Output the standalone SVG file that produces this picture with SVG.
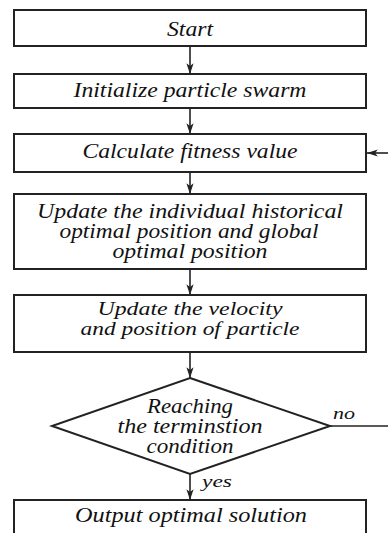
<svg xmlns="http://www.w3.org/2000/svg" width="388" height="533" viewBox="0 0 388 533">
<defs>
<marker id="ah" viewBox="0 0 12 10" refX="12" refY="5" markerWidth="12" markerHeight="9" markerUnits="userSpaceOnUse" orient="auto">
<path d="M0,1 L12,5 L0,9 L3,5 Z" fill="#222"/>
</marker>
<style>
.b{fill:#fff;stroke:#222;stroke-width:2}
.t{font-family:"Liberation Serif","Times New Roman","DejaVu Serif",serif;font-style:italic;font-size:20px;fill:#111;text-anchor:middle}
.v{font-size:18.5px}
.s{font-family:"Liberation Serif","Times New Roman","DejaVu Serif",serif;font-style:italic;font-size:17px;fill:#111}
.c{fill:none;stroke:#222;stroke-width:1.6}
</style>
</defs>
<rect width="388" height="533" fill="#fff"/>
<g id="connectors">
<line class="c" x1="190" y1="47" x2="190" y2="74" marker-end="url(#ah)"/>
<line class="c" x1="190" y1="108" x2="190" y2="134" marker-end="url(#ah)"/>
<line class="c" x1="190" y1="172" x2="190" y2="194" marker-end="url(#ah)"/>
<line class="c" x1="190" y1="269" x2="190" y2="295" marker-end="url(#ah)"/>
<line class="c" x1="190" y1="352" x2="190" y2="378" marker-end="url(#ah)"/>
<line class="c" x1="190" y1="474" x2="190" y2="500" marker-end="url(#ah)"/>
<line class="c" x1="330" y1="426" x2="390" y2="426"/>
<line class="c" x1="390" y1="153" x2="367" y2="153" marker-end="url(#ah)"/>
<text class="s" x="333" y="419" textLength="22" lengthAdjust="spacingAndGlyphs">no</text>
<text class="s" x="202" y="487" textLength="30" lengthAdjust="spacingAndGlyphs">yes</text>
</g>
<g id="start">
<rect class="b" x="14" y="10" width="352" height="36"/>
<text class="t" x="190" y="36" textLength="46" lengthAdjust="spacingAndGlyphs">Start</text>
</g>
<g id="init">
<rect class="b" x="14" y="74" width="352" height="34"/>
<text class="t" x="190" y="97" textLength="233" lengthAdjust="spacingAndGlyphs">Initialize particle swarm</text>
</g>
<g id="fitness">
<rect class="b" x="14" y="134" width="352" height="38"/>
<text class="t" x="190" y="158" textLength="215" lengthAdjust="spacingAndGlyphs">Calculate fitness value</text>
</g>
<g id="update-best">
<rect class="b" x="14" y="194" width="352" height="75"/>
<text class="t" x="190" y="218" textLength="306" lengthAdjust="spacingAndGlyphs">Update the individual historical</text>
<text class="t" x="189" y="238" textLength="259" lengthAdjust="spacingAndGlyphs">optimal position and global</text>
<text class="t" x="190" y="258" textLength="155" lengthAdjust="spacingAndGlyphs">optimal position</text>
</g>
<g id="update-vel">
<rect class="b" x="14" y="295" width="352" height="57"/>
<text class="t v" x="190" y="315" textLength="185" lengthAdjust="spacingAndGlyphs">Update the velocity</text>
<text class="t v" x="190" y="335" textLength="219" lengthAdjust="spacingAndGlyphs">and position of particle</text>
</g>
<g id="decision">
<polygon class="b" points="190,378 330,426 190,474 52,426"/>
<text class="t" x="190" y="413" textLength="86" lengthAdjust="spacingAndGlyphs">Reaching</text>
<text class="t" x="190" y="433" textLength="145" lengthAdjust="spacingAndGlyphs">the terminstion</text>
<text class="t" x="190" y="453" textLength="87" lengthAdjust="spacingAndGlyphs">condition</text>
</g>
<g id="output">
<rect class="b" x="14" y="500" width="352" height="45"/>
<text class="t" x="191" y="522" textLength="232" lengthAdjust="spacingAndGlyphs">Output  optimal solution</text>
</g>
</svg>
